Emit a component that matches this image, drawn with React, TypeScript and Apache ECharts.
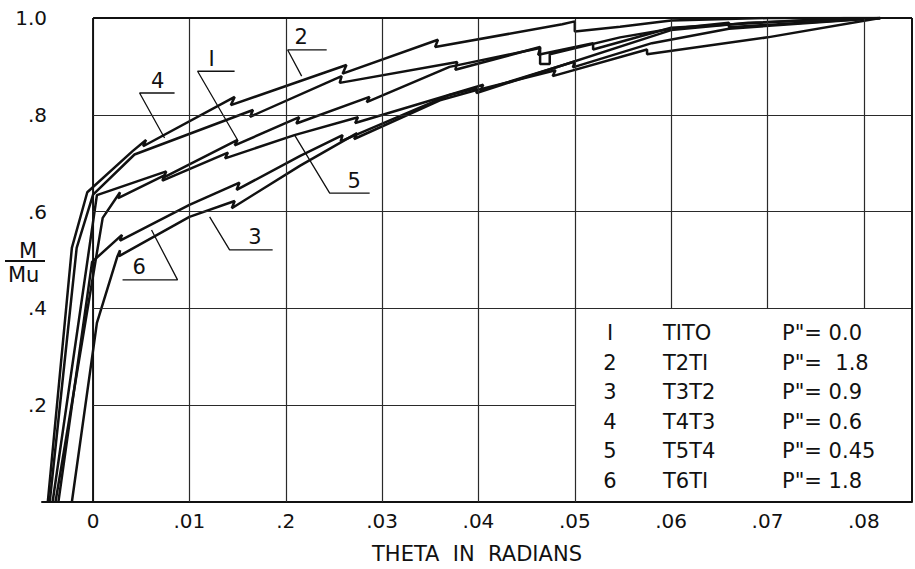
import React, { useEffect, useRef } from "react";
import * as echarts from "echarts";

// ---- axis ticks ----
const xTickValues = [0, 0.01, 0.02, 0.03, 0.04, 0.05, 0.06, 0.07, 0.08];
const xTickLabels = ["0", ".01", ".2", ".03", ".04", ".05", ".06", ".07", ".08"];
const yTickValues = [0, 0.2, 0.4, 0.6, 0.8, 1.0];
const yTickLabels = ["", ".2", ".4", ".6", ".8", "1.0"];

// ---- curves (theta, M/Mu) ----
const curve1: number[][] = [
  [-0.0042, 0], [0.0004, 0.634], [0.0076, 0.683], [0.0073, 0.67], [0.015, 0.748], [0.0147, 0.737],
  [0.0214, 0.795], [0.0211, 0.782], [0.0287, 0.837], [0.0284, 0.826], [0.037, 0.899],
  [0.0464, 0.938], [0.0462, 0.924], [0.0519, 0.948], [0.0519, 0.935], [0.06, 0.98], [0.078, 1.0], [0.0817, 1.0],
];
const curve2: number[][] = [
  [-0.0047, 0], [-0.0022, 0.525], [-0.0006, 0.64], [0.0041, 0.725], [0.0055, 0.748], [0.0052, 0.735],
  [0.0147, 0.837], [0.0143, 0.82], [0.0263, 0.903], [0.0259, 0.885], [0.0358, 0.955], [0.0355, 0.94],
  [0.0487, 0.987], [0.05, 0.993], [0.05, 0.972], [0.0547, 0.982], [0.06, 0.995], [0.07, 1.0], [0.0817, 1.0],
];
const curve3: number[][] = [
  [-0.0022, 0], [0.0004, 0.37], [0.0025, 0.506], [0.0028, 0.52], [0.0027, 0.508], [0.01, 0.589],
  [0.0147, 0.622], [0.0144, 0.607], [0.0215, 0.695], [0.0274, 0.762], [0.0271, 0.75], [0.036, 0.83],
  [0.0398, 0.851], [0.048, 0.892], [0.0477, 0.88], [0.0575, 0.935], [0.0575, 0.925], [0.07, 0.96], [0.0817, 1.0],
];
const curve4: number[][] = [
  [-0.0045, 0], [-0.0017, 0.525], [0.0, 0.635], [0.0043, 0.718], [0.0166, 0.81], [0.0163, 0.796],
  [0.0258, 0.88], [0.0256, 0.866], [0.0378, 0.909], [0.0376, 0.893], [0.0464, 0.94], [0.0464, 0.905],
  [0.0474, 0.905], [0.0474, 0.925], [0.0547, 0.96], [0.06, 0.978], [0.066, 0.99], [0.066, 0.981], [0.0817, 1.0],
];
const curve5: number[][] = [
  [-0.0039, 0], [0.001, 0.587], [0.0028, 0.64], [0.0026, 0.628], [0.0074, 0.675], [0.0072, 0.664],
  [0.014, 0.722], [0.0137, 0.71], [0.0209, 0.758], [0.0275, 0.795], [0.0272, 0.783], [0.0405, 0.862],
  [0.0402, 0.85], [0.05, 0.91], [0.0498, 0.898], [0.058, 0.948], [0.066, 0.978], [0.0817, 1.0],
];
const curve6: number[][] = [
  [-0.0036, 0], [-0.0001, 0.496], [0.003, 0.552], [0.0028, 0.54], [0.01, 0.614], [0.0152, 0.66],
  [0.0149, 0.645], [0.0215, 0.715], [0.0259, 0.758], [0.0257, 0.745], [0.037, 0.841], [0.0398, 0.855],
  [0.0398, 0.845], [0.06, 0.975], [0.068, 0.99], [0.0817, 1.0],
];
const curves = [curve1, curve2, curve3, curve4, curve5, curve6];

// ---- curve call-outs: label, text x, underline y, underline x1, x2, tip x, tip y ----
const calloutLabels = ["4", "I", "2", "5", "3", "6"];
const calloutTextX = [0.0067, 0.0123, 0.0216, 0.0271, 0.0168, 0.0048];
const calloutLineY = [0.845, 0.89, 0.934, 0.638, 0.521, 0.459];
const calloutX1 = [0.00483, 0.01085, 0.0202, 0.02456, 0.01417, 0.00877];
const calloutX2 = [0.00846, 0.01469, 0.02425, 0.02871, 0.01864, 0.00306];
const calloutTipX = [0.00742, 0.015, 0.02165, 0.02092, 0.0121, 0.00607];
const calloutTipY = [0.752, 0.748, 0.88, 0.758, 0.589, 0.562];

// ---- legend table ----
const legendNums = ["I", "2", "3", "4", "5", "6"];
const legendCodes = ["TITO", "T2TI", "T3T2", "T4T3", "T5T4", "T6TI"];
const legendP = ['P"= 0.0', 'P"=  1.8', 'P"= 0.9', 'P"= 0.6', 'P"= 0.45', 'P"= 1.8'];

// ---- frame / grid lines ----
const X_MIN = -0.0053;
const X_MAX = 0.085;
const gridXFull = [0.01, 0.02, 0.03, 0.04, 0.05];
const gridXUpper = [0.06, 0.07, 0.08];
const gridYFull = [0.4, 0.6, 0.8];
const gridYShort = [0.2];

const FONT = "DejaVu Sans";
const INK = "#111111";

export default function App() {
  const ref = useRef<HTMLDivElement>(null);
  useEffect(() => {
    if (!ref.current) return;
    const chart = echarts.init(ref.current, null, { renderer: "svg" });

    const seg = (x1: number, y1: number, x2: number, y2: number) => [
      { coord: [x1, y1] },
      { coord: [x2, y2] },
    ];
    const thinLines: any[] = [];
    gridXFull.forEach((x) => thinLines.push(seg(x, 0, x, 1)));
    gridXUpper.forEach((x) => thinLines.push(seg(x, 0.4, x, 1)));
    gridYFull.forEach((y) => thinLines.push(seg(0, y, X_MAX, y)));
    gridYShort.forEach((y) => thinLines.push(seg(0, y, 0.05, y)));
    const frameLines: any[] = [seg(0, 1, X_MAX, 1), seg(X_MAX, 0, X_MAX, 1)];

    const series: any[] = [
      {
        type: "line",
        data: [[0, 0], [0, 1]],
        showSymbol: false,
        silent: true,
        lineStyle: { color: INK, width: 2 },
        z: 1,
        markLine: {
          silent: true,
          symbol: ["none", "none"],
          label: { show: false },
          lineStyle: { color: "#2a2a2a", width: 1.2, type: "solid" },
          emphasis: { disabled: true },
          data: thinLines,
        },
      },
      {
        type: "line",
        data: [],
        showSymbol: false,
        silent: true,
        z: 1,
        markLine: {
          silent: true,
          symbol: ["none", "none"],
          label: { show: false },
          lineStyle: { color: INK, width: 2, type: "solid" },
          emphasis: { disabled: true },
          data: frameLines,
        },
      },
    ];

    curves.forEach((c) => {
      series.push({
        type: "line",
        data: c,
        showSymbol: false,
        silent: true,
        lineStyle: { color: INK, width: 2.5 },
        z: 3,
      });
    });

    calloutLabels.forEach((lab, i) => {
      series.push({
        type: "line",
        data: [
          [calloutX2[i], calloutLineY[i]],
          [calloutX1[i], calloutLineY[i]],
          [calloutTipX[i], calloutTipY[i]],
        ],
        showSymbol: false,
        silent: true,
        lineStyle: { color: INK, width: 1.3 },
        z: 4,
      });
      series.push({
        type: "scatter",
        data: [[calloutTextX[i], calloutLineY[i]]],
        symbolSize: 0,
        silent: true,
        itemStyle: { opacity: 1, color: INK },
        z: 4,
        label: {
          show: true,
          position: "top",
          distance: 2,
          formatter: lab,
          color: INK,
          opacity: 1,
          fontSize: 21,
          fontFamily: FONT,
        },
      });
    });

    const graphic: any[] = [
      { type: "text", left: 19, top: 240, style: { text: "M", font: `21px "${FONT}"`, fill: INK } },
      { type: "line", shape: { x1: 5, y1: 261, x2: 45, y2: 261 }, style: { stroke: INK, lineWidth: 2 } },
      { type: "text", left: 8, top: 264, style: { text: "Mu", font: `21px "${FONT}"`, fill: INK } },
    ];
    legendNums.forEach((n, i) => {
      const y = 333 + i * 29.6;
      graphic.push({ type: "text", x: 610, y, style: { text: n, font: `21px "${FONT}"`, fill: INK, textAlign: "center", textVerticalAlign: "middle" } });
      graphic.push({ type: "text", x: 663, y, style: { text: legendCodes[i], font: `21px "${FONT}"`, fill: INK, textAlign: "left", textVerticalAlign: "middle" } });
      graphic.push({ type: "text", x: 782, y, style: { text: legendP[i], font: `21px "${FONT}"`, fill: INK, textAlign: "left", textVerticalAlign: "middle" } });
    });

    chart.setOption({
      animation: false,
      backgroundColor: "#ffffff",
      grid: { left: 42, right: 3, top: 18, bottom: 67 },
      xAxis: {
        type: "value",
        min: X_MIN,
        max: X_MAX,
        axisLine: { show: true, onZero: false, lineStyle: { color: INK, width: 2 } },
        axisTick: { show: false },
        splitLine: { show: false },
        axisLabel: {
          customValues: xTickValues,
          formatter: (v: number) => {
            const i = xTickValues.findIndex((t) => Math.abs(t - v) < 1e-6);
            return i >= 0 ? xTickLabels[i] : "";
          },
          color: INK,
          fontSize: 20,
          fontFamily: FONT,
          margin: 9,
        },
        name: "THETA  IN  RADIANS",
        nameLocation: "middle",
        nameGap: 41,
        nameTextStyle: { color: INK, fontSize: 21, fontFamily: FONT },
      },
      yAxis: {
        type: "value",
        min: 0,
        max: 1,
        interval: 0.2,
        axisLine: { show: false },
        axisTick: { show: false },
        splitLine: { show: false },
        axisLabel: {
          formatter: (v: number) => {
            const i = yTickValues.findIndex((t) => Math.abs(t - v) < 1e-6);
            return i >= 0 ? yTickLabels[i] : "";
          },
          color: INK,
          fontSize: 20,
          fontFamily: FONT,
          margin: -5,
        },
      },
      graphic,
      series,
    });
    return () => chart.dispose();
  }, []);
  return (
    <div
      ref={ref}
      style={{ position: "fixed", left: 0, top: 0, width: 915, height: 569, background: "#fff" }}
    />
  );
}
